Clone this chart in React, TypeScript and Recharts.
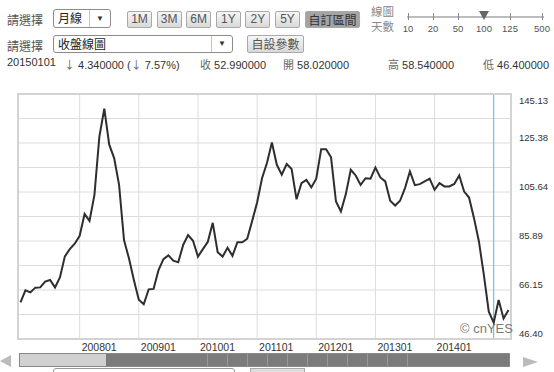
import React from "react";
import { CartesianGrid, Line, LineChart, ReferenceLine, XAxis, YAxis } from "recharts";

// monthly closes, 2007-01 .. 2015-04
const START_YEAR = 2007;
const closes2007 = [61.2, 66.0, 65.2, 67.1, 67.2, 69.5, 70.2, 67.2, 71.2, 79.7, 82.6, 84.8];
const closes2008 = [88.0, 96.8, 94.0, 104.5, 128.0, 139.2, 124.7, 119.3, 108.5, 86.3, 78.9, 70.2];
const closes2009 = [62.2, 60.4, 66.4, 66.6, 74.2, 78.6, 80.1, 78.0, 77.3, 84.3, 88.3, 86.0];
const closes2010 = [79.6, 82.6, 85.6, 93.2, 81.4, 79.6, 83.2, 79.9, 85.4, 85.4, 86.8, 94.0];
const closes2011 = [101.4, 111.2, 117.3, 125.6, 116.6, 112.6, 116.9, 114.9, 102.7, 109.2, 110.5, 107.5];
const closes2012 = [111.0, 122.9, 122.9, 119.6, 101.8, 97.8, 104.8, 114.6, 112.3, 108.5, 111.2, 111.0];
const closes2013 = [115.5, 111.5, 109.9, 102.1, 100.2, 102.1, 107.2, 113.9, 108.4, 108.8, 109.9, 111.0];
const closes2014 = [106.5, 109.2, 107.9, 107.9, 108.9, 112.3, 105.8, 103.4, 95.1, 85.7, 72.2, 57.4];
const closes2015 = [53.0, 62.1, 54.7, 58.1];

const CLOSES = [
  ...closes2007, ...closes2008, ...closes2009, ...closes2010, ...closes2011,
  ...closes2012, ...closes2013, ...closes2014, ...closes2015,
];
const monthCode = (i: number) =>
  `${START_YEAR + Math.floor(i / 12)}${String((i % 12) + 1).padStart(2, "0")}`;
const data = CLOSES.map((close, i) => ({ month: monthCode(i), close }));

const YEAR_TICKS = ["200801", "200901", "201001", "201101", "201201", "201301", "201401"];
const Y_TICKS = [46.4, 56.273, 66.146, 76.019, 85.892, 95.765, 105.638, 115.511, 125.384, 135.257, 145.13];
const CURSOR_MONTH = "201501";

const PERIOD_BUTTONS = ["1M", "3M", "6M", "1Y", "2Y", "5Y"];
const SLIDER_STOPS = ["10", "20", "50", "100", "125", "500"];
const ACTIVE_STOP = "100";
const QUOTE_DATE = "20150101";
const QUOTE_DIFF = "4.340000";
const QUOTE_PCT = "7.57%";
const QUOTE_FIELDS = [
  { label: "收", value: "52.990000" },
  { label: "開", value: "58.020000" },
  { label: "高", value: "58.540000" },
  { label: "低", value: "46.400000" },
];

const CJK = '"Noto Sans CJK TC", "Liberation Sans", Arial, sans-serif';
const LATIN = '"Liberation Sans", Arial, sans-serif';

const btn: React.CSSProperties = {
  position: "absolute",
  height: 17,
  boxSizing: "border-box",
  border: "1px solid #a9a9a9",
  borderRadius: 2,
  background: "linear-gradient(#f6f6f6, #d9d9d9)",
  color: "#555",
  font: `12px ${LATIN}`,
  lineHeight: "15px",
  textAlign: "center",
};

const quoteText: React.CSSProperties = {
  position: "absolute",
  top: 56,
  font: `11px ${LATIN}`,
  color: "#333",
  whiteSpace: "pre",
};

function XTick({ x, y, payload }: any) {
  return (
    <text x={x + 2} y={y + 10} fill="#333" fontSize={10.5} fontFamily={LATIN} textAnchor="start">
      {payload.value}
    </text>
  );
}

function YTick({ x, y, payload }: any) {
  const idx = Y_TICKS.indexOf(payload.value);
  if (idx % 2 !== 0) return <g />;
  const top = idx === Y_TICKS.length - 1;
  return (
    <text x={x + 6} y={y + (top ? 10 : -2)} fill="#333" fontSize={9.5} fontFamily={LATIN} textAnchor="start">
      {payload.value.toFixed(2)}
    </text>
  );
}

function Select({ left, top, width, height, text, arrowW }: any) {
  return (
    <div
      style={{
        position: "absolute", left, top, width, height, boxSizing: "border-box",
        border: "1px solid #8c8c8c", borderRadius: 3, background: "#fff",
      }}
    >
      <span style={{ position: "absolute", left: 4, top: 0, font: `12px ${CJK}`, lineHeight: `${height - 3}px`, color: "#222" }}>
        {text}
      </span>
      <div
        style={{
          position: "absolute", right: 0, top: 0, bottom: 0, width: arrowW,
          borderLeft: "1px solid #c4c4c4", textAlign: "center", fontSize: 8, lineHeight: `${height - 2}px`, color: "#333",
        }}
      >
        ▼
      </div>
    </div>
  );
}

export default function App() {
  const sliderX = [408, 433, 458, 484, 510, 542];
  return (
    <div style={{ position: "absolute", left: 0, top: 0, width: 554, height: 372, background: "#fff", overflow: "hidden" }}>
      {/* row 1 */}
      <div style={{ position: "absolute", left: 7, top: 11, font: `12px ${CJK}`, color: "#555" }}>請選擇</div>
      <Select left={53} top={9} width={58} height={19} text="月線" arrowW={20} />
      {PERIOD_BUTTONS.map((b, i) => (
        <div key={b} style={{ ...btn, left: 127 + i * 29.6, top: 11, width: 25 }}>{b}</div>
      ))}
      <div style={{ ...btn, left: 305, top: 11, width: 55, background: "#a4a4a4", color: "#333", font: `12px ${CJK}`, lineHeight: "15px" }}>
        自訂區間
      </div>
      <div style={{ position: "absolute", left: 371, top: 4, font: `11.5px ${CJK}`, lineHeight: "14px", color: "#888" }}>線圖</div>
      <div style={{ position: "absolute", left: 371, top: 19, font: `11.5px ${CJK}`, lineHeight: "14px", color: "#888" }}>天數</div>
      <div style={{ position: "absolute", left: 407, top: 16, width: 137, height: 2, background: "#bdbdbd" }} />
      {SLIDER_STOPS.map((s, i) => (
        <React.Fragment key={s}>
          {s === ACTIVE_STOP ? (
            <div
              style={{
                position: "absolute", left: sliderX[i] - 5, top: 11, width: 0, height: 0,
                borderLeft: "5px solid transparent", borderRight: "5px solid transparent", borderTop: "9px solid #666",
              }}
            />
          ) : (
            <div style={{ position: "absolute", left: sliderX[i], top: 13, width: 1, height: 7, background: "#888" }} />
          )}
          <div style={{ position: "absolute", left: sliderX[i] - 12, width: 24, top: 23, textAlign: "center", font: `9.5px ${LATIN}`, color: "#555" }}>
            {s}
          </div>
        </React.Fragment>
      ))}

      {/* row 2 */}
      <div style={{ position: "absolute", left: 7, top: 37, font: `12px ${CJK}`, color: "#555" }}>請選擇</div>
      <Select left={53} top={35} width={180} height={18} text="收盤線圖" arrowW={20} />
      <div style={{ ...btn, left: 247, top: 35, width: 57, height: 18, font: `12px ${CJK}`, lineHeight: "16px" }}>自設參數</div>

      {/* row 3 */}
      <div style={{ ...quoteText, left: 7 }}>{QUOTE_DATE}</div>
      <div style={{ ...quoteText, left: 64 }}>
        <span style={{ fontFamily: CJK, color: "#666" }}>↓</span> {QUOTE_DIFF} (<span style={{ fontFamily: CJK, color: "#666" }}>↓</span> {QUOTE_PCT})
      </div>
      {QUOTE_FIELDS.map((q, i) => (
        <div key={q.label} style={{ ...quoteText, left: [200, 283, 388, 483][i] }}>
          <span style={{ fontFamily: CJK, color: "#666" }}>{q.label}</span> {q.value}
        </div>
      ))}

      {/* chart */}
      <div style={{ position: "absolute", left: 0, top: 0 }}>
        <LineChart width={554} height={372} data={data} margin={{ top: 94, right: 0, bottom: 0, left: 18 }}>
          <CartesianGrid stroke="#dcdcdc" />
          <XAxis
            dataKey="month"
            ticks={YEAR_TICKS}
            interval={0}
            padding={{ left: 2.5, right: 2.5 }}
            height={33}
            axisLine={false}
            tickLine={false}
            tickSize={0}
            tick={<XTick />}
          />
          <YAxis
            orientation="right"
            width={43}
            domain={[Y_TICKS[0], Y_TICKS[Y_TICKS.length - 1]]}
            ticks={Y_TICKS}
            interval={0}
            axisLine={false}
            tickLine={false}
            tickSize={0}
            tick={<YTick />}
          />
          <ReferenceLine x={CURSOR_MONTH} stroke="#56b4e2" strokeWidth={1} />
          <Line type="linear" dataKey="close" stroke="#2e2e2e" strokeWidth={2} dot={false} isAnimationActive={false} />
        </LineChart>
      </div>
      <div
        style={{
          position: "absolute", left: 17, top: 93, width: 495, height: 247, boxSizing: "border-box",
          border: "2px solid #d3d3d3", pointerEvents: "none",
        }}
      />
      <div style={{ position: "absolute", left: 460, top: 321, font: `13px ${LATIN}`, color: "#7a7a7a" }}>© cnYES</div>

      {/* scrollbar */}
      <div
        style={{
          position: "absolute", left: 0, top: 355, width: 0, height: 0,
          borderTop: "6px solid transparent", borderBottom: "6px solid transparent", borderRight: "11px solid #bbb",
        }}
      />
      <div style={{ position: "absolute", left: 19, top: 353, width: 491, height: 14, boxSizing: "border-box", border: "1px solid #888", background: "#d0d0d0" }}>
        <div style={{ position: "absolute", left: 86, top: 0, right: 0, bottom: 0, background: "#7b7b7b" }}>
          {Array.from({ length: 11 }).map((_, i) => (
            <div key={i} style={{ position: "absolute", left: 101 + i * 20, top: 0, bottom: 0, width: 1, background: "#999" }} />
          ))}
        </div>
      </div>
      <div
        style={{
          position: "absolute", left: 523, top: 357, width: 0, height: 0,
          borderTop: "5px solid transparent", borderBottom: "5px solid transparent", borderLeft: "15px solid #bbb",
        }}
      />
      <div style={{ position: "absolute", left: 53, top: 368, width: 180, height: 10, border: "1px solid #999", borderRadius: 3 }} />
      <div style={{ position: "absolute", left: 250, top: 368, width: 53, height: 10, border: "1px solid #aaa", background: "#ddd" }} />
    </div>
  );
}
